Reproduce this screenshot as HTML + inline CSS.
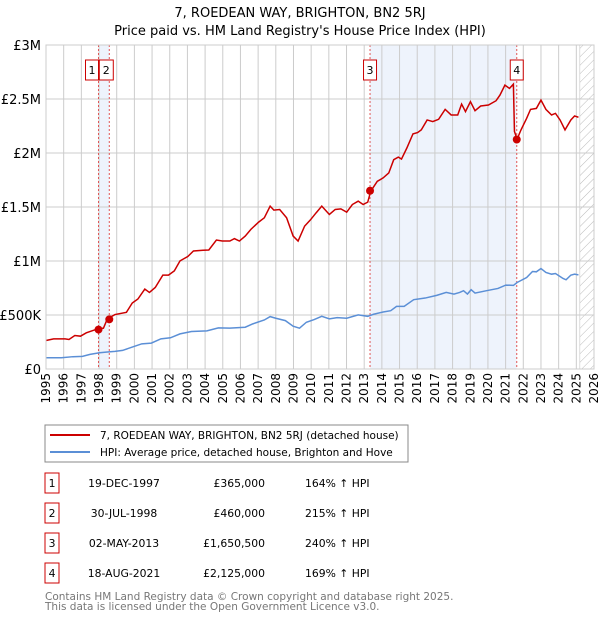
<!DOCTYPE html>
<html><head><meta charset="utf-8"><style>
body{margin:0;background:#fff;font-family:"Liberation Sans","DejaVu Sans",sans-serif;}
svg text{font-family:"DejaVu Sans","Liberation Sans",sans-serif;}
</style></head><body>
<svg id="c" width="600" height="620" xmlns="http://www.w3.org/2000/svg">
<defs><pattern id="hatch" width="6" height="6" patternUnits="userSpaceOnUse" patternTransform="rotate(45)"><line x1="0" y1="0" x2="0" y2="6" stroke="#bbb" stroke-width="1"/></pattern></defs>
<text x="300" y="17" text-anchor="middle" font-size="13">7, ROEDEAN WAY, BRIGHTON, BN2 5RJ</text>
<text x="300" y="35" text-anchor="middle" font-size="13">Price paid vs. HM Land Registry's House Price Index (HPI)</text>
<g id="plot"></g>
<rect x="45" y="425" width="363" height="37" fill="#fff" stroke="#888"/>
<line x1="50" y1="435" x2="90" y2="435" stroke="#cc0000" stroke-width="2"/>
<text x="100" y="439" font-size="10.5">7, ROEDEAN WAY, BRIGHTON, BN2 5RJ (detached house)</text>
<line x1="50" y1="452" x2="90" y2="452" stroke="#5b8fd6" stroke-width="2"/>
<text x="100" y="456" font-size="10.5">HPI: Average price, detached house, Brighton and Hove</text>
<g id="table" font-size="10.8"></g>
<text x="45" y="600" font-size="10.5" fill="#777">Contains HM Land Registry data © Crown copyright and database right 2025.</text>
<text x="45" y="610" font-size="10.5" fill="#777">This data is licensed under the Open Government Licence v3.0.</text>
</svg>
<script>
const redYears=[1995.00,1995.43,1996.08,1996.30,1996.63,1996.95,1997.28,1997.93,1998.25,1998.47,1998.90,1999.55,1999.88,2000.20,2000.59,2000.85,2001.18,2001.61,2001.93,2002.26,2002.58,2003.02,2003.34,2003.88,2004.21,2004.64,2004.97,2005.40,2005.66,2005.94,2006.27,2006.59,2007.03,2007.35,2007.68,2007.89,2008.22,2008.61,2008.98,2009.26,2009.63,2009.95,2010.28,2010.60,2011.03,2011.36,2011.68,2012.01,2012.33,2012.66,2012.94,2013.20,2013.37,2013.74,2014.07,2014.39,2014.67,2014.93,2015.11,2015.41,2015.76,2016.02,2016.23,2016.56,2016.88,2017.21,2017.58,2017.92,2018.29,2018.51,2018.73,2019.01,2019.27,2019.59,2020.03,2020.46,2020.68,2020.96,2021.22,2021.44,2021.50,2021.65,2021.87,2022.19,2022.41,2022.74,2023.00,2023.28,2023.60,2023.82,2024.08,2024.36,2024.69,2024.90,2025.12];
const redValues=[264,279,279,273,310,304,335,372,378,464,504,525,611,648,740,709,755,869,869,909,1001,1041,1093,1099,1102,1194,1185,1185,1207,1185,1231,1293,1360,1400,1508,1471,1477,1400,1231,1185,1323,1379,1446,1508,1431,1477,1483,1452,1523,1554,1523,1545,1646,1738,1769,1815,1938,1962,1944,2045,2177,2189,2214,2306,2291,2312,2404,2352,2352,2453,2383,2475,2392,2435,2444,2484,2536,2628,2598,2638,2199,2128,2214,2321,2404,2413,2490,2404,2352,2367,2306,2214,2306,2343,2331];
const hpiYears=[1995.00,1995.87,1996.52,1997.06,1997.49,1998.03,1998.47,1998.90,1999.33,1999.88,2000.42,2000.96,2001.50,2002.04,2002.58,2003.23,2004.10,2004.75,2005.40,2006.27,2006.70,2007.35,2007.68,2008.00,2008.54,2008.98,2009.34,2009.73,2010.17,2010.60,2011.03,2011.47,2012.01,2012.66,2013.20,2013.53,2014.07,2014.50,2014.83,2015.26,2015.80,2016.45,2017.10,2017.64,2018.08,2018.40,2018.62,2018.84,2019.05,2019.27,2019.92,2020.57,2021.01,2021.44,2021.65,2022.19,2022.52,2022.74,2023.00,2023.28,2023.60,2023.82,2024.25,2024.42,2024.69,2024.90,2025.12];
const hpiValues=[104,104,114,117,135,150,157,163,172,203,233,240,279,289,325,347,353,381,378,387,418,454,485,470,448,396,378,433,458,488,464,476,470,501,488,507,528,540,580,580,642,657,682,709,694,709,725,694,734,703,725,746,777,774,801,847,903,900,930,894,878,884,838,826,869,878,872];
const saleYears=[1997.97,1998.58,2013.33,2021.63];
const saleValues=[365,460,1650.5,2125];
const saleLabels=["1","2","3","4"];
const saleDates=["19-DEC-1997","30-JUL-1998","02-MAY-2013","18-AUG-2021"];
const salePrices=["£365,000","£460,000","£1,650,500","£2,125,000"];
const salePcts=["164% ↑ HPI","215% ↑ HPI","240% ↑ HPI","169% ↑ HPI"];
const yTicks=[0,500,1000,1500,2000,2500,3000];
const yTickLabels=["£0","£500K","£1M","£1.5M","£2M","£2.5M","£3M"];
const xTicks=[1995,1996,1997,1998,1999,2000,2001,2002,2003,2004,2005,2006,2007,2008,2009,2010,2011,2012,2013,2014,2015,2016,2017,2018,2019,2020,2021,2022,2023,2024,2025,2026];

const X0=46,X1=594,Y0=369,Y1=45;
const xs=y=>X0+(y-1995)/31*(X1-X0);
const ys=v=>Y0-v/3000*(Y0-Y1);
const NS="http://www.w3.org/2000/svg";
const plot=document.getElementById('plot');
function mk(tag,attrs,parent){const e=document.createElementNS(NS,tag);for(const k in attrs)e.setAttribute(k,attrs[k]);(parent||plot).appendChild(e);return e;}

let r=mk('rect',{x:X0,y:Y1,width:X1-X0,height:Y0-Y1,fill:'#fff'});


[[0,1],[2,3]].forEach(([a,b])=>{
 let s=mk('rect',{x:xs(saleYears[a]),y:Y1,width:xs(saleYears[b])-xs(saleYears[a]),height:Y0-Y1,fill:'#eef3fc'});
 
 
});
let h=mk('rect',{x:xs(2025.2),y:Y1,width:X1-xs(2025.2),height:Y0-Y1,fill:'url(#hatch)',stroke:'#bbb','stroke-width':0.5});


xTicks.forEach(t=>{
 let l=mk('line',{x1:xs(t),x2:xs(t),y1:Y1,y2:Y0,stroke:'#ccc','stroke-width':1});
 
 
 let tx=mk('text',{x:0,y:0,'font-size':12,'text-anchor':'end',transform:`translate(${xs(t)+4},${Y0+4}) rotate(-90)`});
 tx.textContent=t;
 
 
});
yTicks.forEach((t,i)=>{
 let l=mk('line',{x1:X0,x2:X1,y1:ys(t),y2:ys(t),stroke:'#ccc','stroke-width':1});
 
 
 let tx=mk('text',{x:41,y:ys(t)+5,'font-size':13,'text-anchor':'end'});
 tx.textContent=yTickLabels[i];
 
 
});
saleYears.forEach(y=>{
 let l=mk('line',{x1:xs(y),x2:xs(y),y1:Y1,y2:Y0,stroke:'#e05555','stroke-width':1,'stroke-dasharray':'2,2'});
 
 
});
let hp=mk('polyline',{points:hpiYears.map((y,i)=>xs(y)+','+ys(hpiValues[i])).join(' '),fill:'none',stroke:'#5b8fd6','stroke-width':1.5});


let rp=mk('polyline',{points:redYears.map((y,i)=>xs(y)+','+ys(redValues[i])).join(' '),fill:'none',stroke:'#cc0000','stroke-width':1.5});


saleYears.forEach((y,i)=>{
 let c=mk('circle',{cx:xs(y),cy:ys(saleValues[i]),r:4,fill:'#cc0000'});
 
 
 const w=i==1?14:13;
 const bx=i==0?xs(y)-w:(i==1?xs(y)-w/2-3:xs(y)-w/2);
 let b=mk('rect',{x:bx,y:60,width:w,height:20,fill:'#fff',stroke:'#cc0000','stroke-width':1});
 
 
 let t=mk('text',{x:bx+w/2,y:74,'font-size':11,'text-anchor':'middle'});
 t.textContent=saleLabels[i];
 
 
});
let ax=mk('rect',{x:X0,y:Y1,width:X1-X0,height:Y0-Y1,fill:'none',stroke:'#ccc'});


const tb=document.getElementById('table');
saleLabels.forEach((l,i)=>{
 const y=483+i*30;
 let b=mk('rect',{x:45,y:y-10,width:14,height:20,fill:'#fff',stroke:'#cc0000'},tb);
 
 
 let t=mk('text',{x:52,y:y+4,'text-anchor':'middle'},tb);t.textContent=l;
 
 
 let d=mk('text',{x:124,y:y+4,'text-anchor':'middle'},tb);d.textContent=saleDates[i];
 
 
 let p=mk('text',{x:265,y:y+4,'text-anchor':'end'},tb);p.textContent=salePrices[i];
 
 
 let q=mk('text',{x:305,y:y+4},tb);q.textContent=salePcts[i];
 
 
});
</script>
</body></html>
